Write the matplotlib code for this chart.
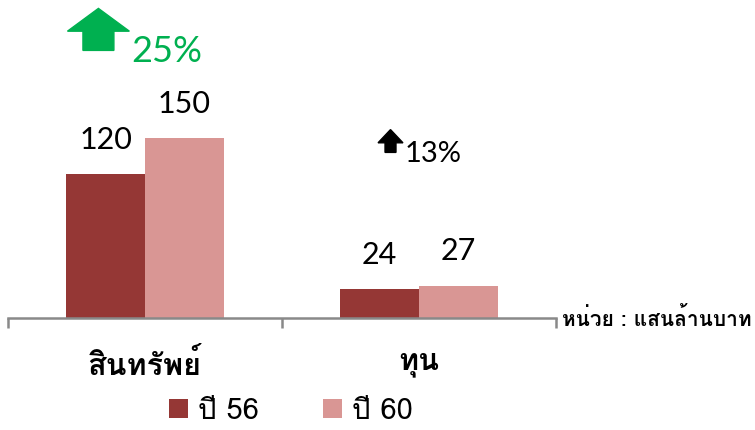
import matplotlib
matplotlib.use('Agg')
import matplotlib.pyplot as plt
from matplotlib import font_manager
from matplotlib.ft2font import FT2Font
from matplotlib.patches import FancyArrow

# data
categories = ['สินทรัพย์', 'ทุน']
series_names = ['ปี 56', 'ปี 60']
y56 = [120, 24]
y60 = [150, 27]
growth = ['25%', '13%']
unit_text = 'หน่วย : แสนล้านบาท'

dark = '#953735'
light = '#D99694'
green = '#00B050'


# find a font that has Thai glyphs
def thai_font():
    for f in font_manager.fontManager.ttflist:
        try:
            if FT2Font(f.fname).get_char_index(0x0E2A):
                return f.name
        except Exception:
            pass
    return 'DejaVu Sans'


thai = thai_font()
plt.rcParams['font.family'] = [thai, 'DejaVu Sans']
num_font = ['Lato', 'DejaVu Sans']

fig = plt.figure(figsize=(7.55, 4.3), dpi=100)
ax = fig.add_axes([8 / 755, 112 / 430, 548 / 755, 318 / 430])

x = [0, 1]
w = 0.288
ax.bar([i - w / 2 for i in x], y56, w, color=dark, label=series_names[0])
ax.bar([i + w / 2 for i in x], y60, w, color=light, label=series_names[1])

for i in x:
    ax.text(i - w / 2, y56[i] + 17, str(y56[i]), ha='center', va='bottom',
            fontsize=22, family=num_font)
    ax.text(i + w / 2, y60[i] + 17, str(y60[i]), ha='center', va='bottom',
            fontsize=22, family=num_font)

# growth arrows
ax.add_patch(FancyArrow(-0.17, 223, 0, 35, width=0.113, head_width=0.226,
                        head_length=19, length_includes_head=True,
                        color=green, clip_on=False))
ax.text(-0.05, 222, growth[0], color=green, fontsize=26, ha='left',
        va='center', family=num_font)
ax.add_patch(FancyArrow(0.896, 138, 0, 19, width=0.04, head_width=0.091,
                        head_length=11, length_includes_head=True,
                        color='black', clip_on=False))
ax.text(0.948, 137, growth[1], color='black', fontsize=21, ha='left',
        va='center', family=num_font)

ax.set_xlim(-0.5, 1.5)
ax.set_ylim(0, 265)
for s in ['top', 'left', 'right']:
    ax.spines[s].set_visible(False)
ax.spines['bottom'].set_color('#898989')
ax.spines['bottom'].set_linewidth(1.8)
ax.set_yticks([])
ax.set_xticks(x)
ax.set_xticklabels(categories, fontsize=22, fontweight='bold')
ax.tick_params(axis='x', which='major', length=0, pad=22)
ax.set_xticks([-0.5, 0.5, 1.5], minor=True)
ax.tick_params(axis='x', which='minor', length=7, width=1.8, color='#898989')

ax.text(1 + 6 / 548, 0, unit_text, transform=ax.transAxes, ha='left',
        va='center', fontsize=15, fontweight='bold')

fig.legend(loc='center', bbox_to_anchor=(291 / 755, 19 / 430), ncol=2,
           frameon=False, fontsize=21, handlelength=0.65, handleheight=0.65,
           handletextpad=0.35, columnspacing=2.2)

fig.savefig('out.png', dpi=100)
